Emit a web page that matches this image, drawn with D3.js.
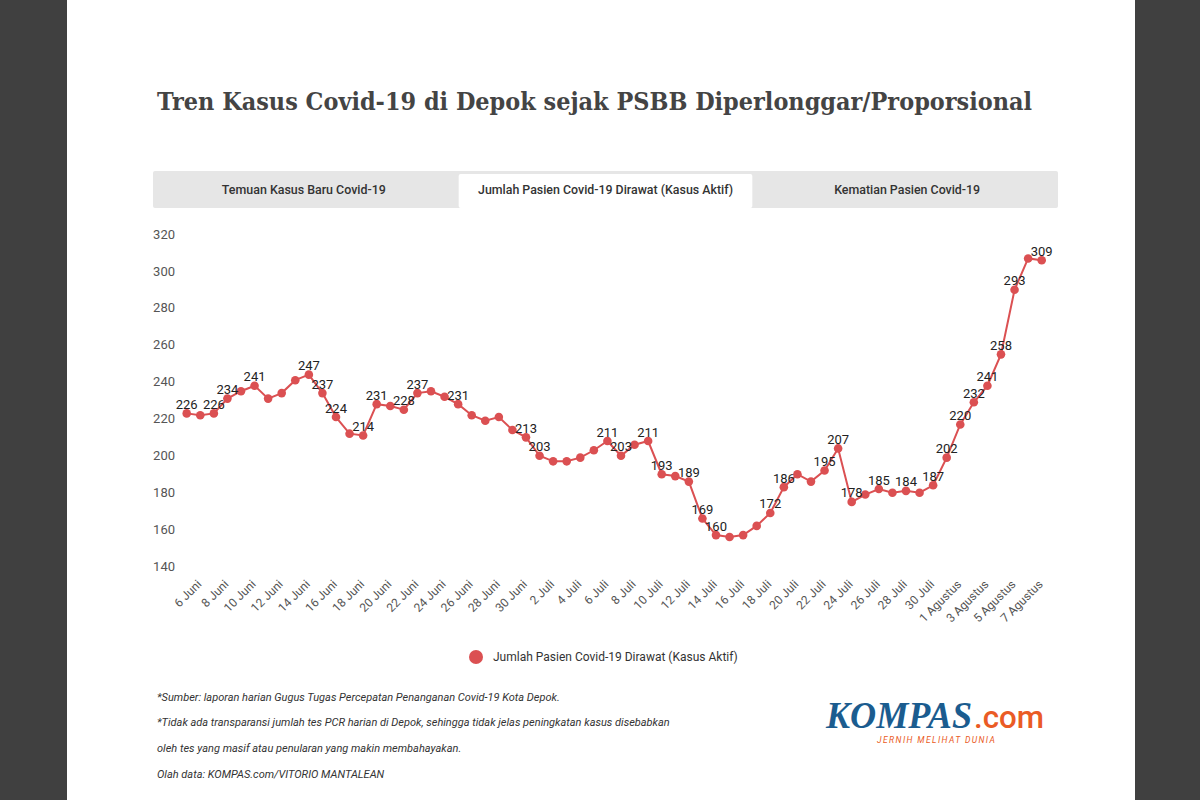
<!DOCTYPE html>
<html><head><meta charset="utf-8">
<script src="https://cdn.jsdelivr.net/npm/d3@7"></script>
<style>
body{margin:0;background:#404040;}
svg{display:block;}
</style></head><body>
<svg id="c" width="1200" height="800"></svg>
<script>
const title = "Tren Kasus Covid-19 di Depok sejak PSBB Diperlonggar/Proporsional";
const tabs = ["Temuan Kasus Baru Covid-19", "Jumlah Pasien Covid-19 Dirawat (Kasus Aktif)", "Kematian Pasien Covid-19"];
const activeTab = 1;
const seriesName = "Jumlah Pasien Covid-19 Dirawat (Kasus Aktif)";
const dates = [
 "6 Juni","7 Juni","8 Juni","9 Juni","10 Juni","11 Juni","12 Juni","13 Juni","14 Juni","15 Juni",
 "16 Juni","17 Juni","18 Juni","19 Juni","20 Juni","21 Juni","22 Juni","23 Juni","24 Juni","25 Juni",
 "26 Juni","27 Juni","28 Juni","29 Juni","30 Juni",
 "1 Juli","2 Juli","3 Juli","4 Juli","5 Juli","6 Juli","7 Juli","8 Juli","9 Juli","10 Juli",
 "11 Juli","12 Juli","13 Juli","14 Juli","15 Juli","16 Juli","17 Juli","18 Juli","19 Juli","20 Juli",
 "21 Juli","22 Juli","23 Juli","24 Juli","25 Juli","26 Juli","27 Juli","28 Juli","29 Juli","30 Juli","31 Juli",
 "1 Agustus","2 Agustus","3 Agustus","4 Agustus","5 Agustus","6 Agustus","7 Agustus","8 Agustus"
];
const values = [
 226,225,226,234,238,241,234,237,244,247,
 237,224,215,214,231,230,228,237,238,235,
 231,225,222,224,217,
 213,203,200,200,202,206,211,203,209,211,
 193,192,189,169,160,159,160,165,172,186,
 193,189,195,207,178,182,185,183,184,183,187,
 202,220,232,241,258,293,310,309
];
const labeledDates = [
 "6 Juni","8 Juni","9 Juni","11 Juni","15 Juni","16 Juni","17 Juni","19 Juni","20 Juni","22 Juni","23 Juni","26 Juni",
 "1 Juli","2 Juli","7 Juli","8 Juli","10 Juli","11 Juli","13 Juli","14 Juli","15 Juli","19 Juli","20 Juli",
 "23 Juli","24 Juli","25 Juli","27 Juli","29 Juli","31 Juli",
 "1 Agustus","2 Agustus","3 Agustus","4 Agustus","5 Agustus","6 Agustus","8 Agustus"
];
const xTickLabels = [
 "6 Juni","8 Juni","10 Juni","12 Juni","14 Juni","16 Juni","18 Juni","20 Juni","22 Juni","24 Juni","26 Juni","28 Juni","30 Juni",
 "2 Juli","4 Juli","6 Juli","8 Juli","10 Juli","12 Juli","14 Juli","16 Juli","18 Juli","20 Juli","22 Juli","24 Juli","26 Juli","28 Juli","30 Juli",
 "1 Agustus","3 Agustus","5 Agustus","7 Agustus"
];
const yTicks = [140,160,180,200,220,240,260,280,300,320];
const notes = [
 "*Sumber: laporan harian Gugus Tugas Percepatan Penanganan Covid-19 Kota Depok.",
 "*Tidak ada transparansi jumlah tes PCR harian di Depok, sehingga tidak jelas peningkatan kasus disebabkan",
 "oleh tes yang masif atau penularan yang makin membahayakan.",
 "Olah data: KOMPAS.com/VITORIO MANTALEAN"
];

const RED = "#db5052";
const svg = d3.select("#c");
svg.append("rect").attr("width",1200).attr("height",800).attr("fill","#404040");
svg.append("rect").attr("x",67).attr("width",1068).attr("height",800).attr("fill","#fff");

// title
svg.append("text").attr("x",157).attr("y",110).text(title)
  .attr("font-family","'DejaVu Serif', serif").attr("font-weight","bold")
  .attr("font-size",24).attr("fill","#444")
  .attr("textLength",875).attr("lengthAdjust","spacingAndGlyphs");

// tabs
svg.append("rect").attr("x",153).attr("y",171).attr("width",905).attr("height",37).attr("rx",2).attr("fill","#e6e6e6");
const tabW = 905/3;
const tabTextW = [164,255,146];
tabs.forEach((t,i)=>{
  const cx = 153 + tabW*(i+0.5);
  if(i===activeTab){
    svg.append("rect").attr("x",153+tabW*i+4).attr("y",174).attr("width",tabW-8).attr("height",34).attr("rx",2).attr("fill","#fff");
  }
  svg.append("text").attr("x",cx).attr("y",194).attr("text-anchor","middle").text(t)
    .attr("font-family","Roboto, sans-serif").attr("font-weight",500).attr("font-size",12).attr("fill","#333")
    .attr("textLength",tabTextW[i]).attr("lengthAdjust","spacingAndGlyphs");
});

// scales
const x = d3.scalePoint().domain(dates).range([186.7,1041.7]);
const y = d3.scaleLinear().domain([140,320]).range([572,240]);

// y axis
const ya = svg.append("g").attr("transform","translate(179,0)")
  .call(d3.axisLeft(y).tickValues(yTicks).tickSize(0).tickPadding(4));
ya.select(".domain").remove();
ya.selectAll("text").attr("font-family","Roboto, sans-serif").attr("font-size",13).attr("fill","#555").attr("dy",-1.8);

// x axis
const xa = svg.append("g").call(d3.axisBottom(x).tickValues(xTickLabels).tickSize(0));
xa.select(".domain").remove();
xa.selectAll("text").attr("y",0).attr("dy",0).attr("text-anchor","end")
  .attr("transform","translate(15,585) rotate(-45)")
  .attr("font-family","Roboto, sans-serif").attr("font-size",12).attr("fill","#555");

// line
const data = dates.map((d,i)=>({d, v: values[i]}));
svg.append("path").datum(data)
  .attr("d", d3.line().x(p=>x(p.d)).y(p=>y(p.v)))
  .attr("fill","none").attr("stroke",RED).attr("stroke-width",2);
svg.append("g").selectAll("circle").data(data).join("circle")
  .attr("cx",p=>x(p.d)).attr("cy",p=>y(p.v)).attr("r",4.3).attr("fill",RED);
svg.append("g").selectAll("text").data(data.filter(p=>labeledDates.includes(p.d))).join("text")
  .attr("x",p=>x(p.d)).attr("y",p=>y(p.v)-4.5).attr("text-anchor","middle").text(p=>p.v)
  .attr("font-family","Roboto, sans-serif").attr("font-size",13).attr("fill","#222");

// legend
svg.append("circle").attr("cx",476).attr("cy",657).attr("r",7).attr("fill",RED);
svg.append("text").attr("x",493).attr("y",661).text(seriesName)
  .attr("font-family","Roboto, sans-serif").attr("font-size",12).attr("fill","#333");

// notes
notes.forEach((n,i)=>{
  svg.append("text").attr("x",157).attr("y",[701,726,752,778][i]).text(n)
    .attr("font-family","Roboto, sans-serif").attr("font-style","italic").attr("font-size",11).attr("fill","#333");
});

// logo
svg.append("text").attr("x",826).attr("y",728).text("KOMPAS")
  .attr("font-family","'Liberation Serif', serif").attr("font-style","italic").attr("font-weight","bold")
  .attr("font-size",38).attr("fill","#1b5c8f").attr("textLength",146).attr("lengthAdjust","spacingAndGlyphs");
svg.append("text").attr("x",974).attr("y",728).text(".com")
  .attr("font-family","Roboto, sans-serif").attr("font-weight",500).attr("font-size",32).attr("fill","#ea5b25")
  .attr("textLength",70).attr("lengthAdjust","spacingAndGlyphs");
svg.append("text").attr("x",877).attr("y",743).text("JERNIH MELIHAT DUNIA")
  .attr("font-family","Roboto, sans-serif").attr("font-style","italic").attr("font-size",8.5).attr("fill","#ea5b25")
  .attr("textLength",118).attr("lengthAdjust","spacing");
</script>
</body></html>
